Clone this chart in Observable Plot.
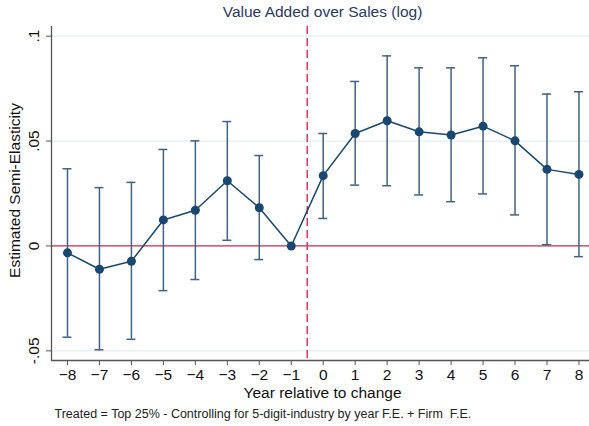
<!DOCTYPE html>
<html>
<head>
<meta charset="utf-8">
<script src="https://cdn.jsdelivr.net/npm/d3@7"></script>
<script src="https://cdn.jsdelivr.net/npm/@observablehq/plot@0.6"></script>
<style>
  html, body { margin: 0; padding: 0; background: #fff; }
  #chart svg { display: block; }
</style>
</head>
<body>
<div id="chart"></div>
<script>
const years    = [-8, -7, -6, -5, -4, -3, -2, -1, 0, 1, 2, 3, 4, 5, 6, 7, 8];
const estimate = [-0.0033, -0.0111, -0.0073, 0.0124, 0.0170, 0.0311, 0.0182, 0.0, 0.0335, 0.0536, 0.0597, 0.0544, 0.0529, 0.0571, 0.0501, 0.0365, 0.0341];
const lower    = [-0.0435, -0.0495, -0.0445, -0.0213, -0.0160, 0.0027, -0.0065, null, 0.0131, 0.0290, 0.0287, 0.0243, 0.0211, 0.0248, 0.0148, 0.0006, -0.0051];
const upper    = [0.0368, 0.0278, 0.0303, 0.0460, 0.0501, 0.0593, 0.0431, null, 0.0536, 0.0784, 0.0906, 0.0849, 0.0849, 0.0897, 0.0859, 0.0724, 0.0735];
const yTicks   = [-0.05, 0, 0.05, 0.1];
const yTickLabels = ["-.05", "0", ".05", ".1"];
const xDomain  = [-8.5, 8.33];
const yDomain  = [-0.0546, 0.1046];
const eventLine = -0.5;
const capHalf = 0.14;

const title   = "Value Added over Sales (log)";
const xTitle  = "Year relative to change";
const yTitle  = "Estimated Semi-Elasticity";
const caption = "Treated = Top 25% - Controlling for 5-digit-industry by year F.E. + Firm  F.E.";

const data = years.map((x, i) => ({x, y: estimate[i], lo: lower[i], hi: upper[i]}));
const ci = data.filter(d => d.lo != null);

const navy = "#1a476f";
const barColor = "#3e6288";

const chart = Plot.plot({
  width: 589,
  height: 426,
  marginLeft: 51,
  marginRight: 0,
  marginTop: 26,
  marginBottom: 66,
  style: {fontFamily: "'Liberation Sans', Arial, sans-serif", fontSize: "15px", background: "#fff", color: "#111"},
  x: {domain: xDomain, ticks: years, tickFormat: d => String(d), label: null},
  y: {domain: yDomain, ticks: yTicks, label: null},
  marks: [
    Plot.ruleY(yTicks.filter(v => v !== 0), {stroke: "#e4edf1", strokeWidth: 1.2}),
    Plot.ruleY([0], {stroke: "#c9284f", strokeWidth: 1.3}),
    Plot.ruleX([eventLine], {stroke: "#d6375f", strokeWidth: 1.5, strokeDasharray: "8,4"}),
    Plot.ruleX(ci, {x: "x", y1: "lo", y2: "hi", stroke: barColor, strokeWidth: 1.5}),
    Plot.ruleY(ci, {y: "lo", x1: d => d.x - capHalf, x2: d => d.x + capHalf, stroke: barColor, strokeWidth: 1.5}),
    Plot.ruleY(ci, {y: "hi", x1: d => d.x - capHalf, x2: d => d.x + capHalf, stroke: barColor, strokeWidth: 1.5}),
    Plot.line(data, {x: "x", y: "y", stroke: navy, strokeWidth: 1.5}),
    Plot.dot(data, {x: "x", y: "y", r: 4.5, fill: navy, stroke: "none"}),
    Plot.ruleX([xDomain[0]], {stroke: "#555", strokeWidth: 1.3}),
    Plot.ruleY([yDomain[0]], {stroke: "#555", strokeWidth: 1.3}),
    Plot.axisY({ticks: yTicks, tickFormat: d => yTickLabels[yTicks.indexOf(d)], tickRotate: -90, tickSize: 5, tickPadding: 8, fontSize: 15.5, stroke: "#555", label: null}),
    Plot.axisX({ticks: years, tickSize: 5, tickPadding: 3, fontSize: 15.5, stroke: "#555", label: null}),
    Plot.text([title], {text: d => d, frameAnchor: "top", lineAnchor: "middle", dx: 2, dy: -14, fontSize: 15.5, fill: "#2b3a62"}),
    Plot.text([xTitle], {text: d => d, frameAnchor: "bottom", lineAnchor: "middle", dx: 2, dy: 33, fontSize: 15.5, fill: "#111"}),
    Plot.text([yTitle], {text: d => d, frameAnchor: "left", textAnchor: "middle", rotate: -90, dx: -36, dy: -3, fontSize: 15.5, fill: "#111"}),
    Plot.text([caption], {text: d => d, frameAnchor: "bottom-left", textAnchor: "start", lineAnchor: "middle", dx: 3, dy: 53, fontSize: 12.5, fill: "#222"})
  ]
});
document.getElementById("chart").appendChild(chart);
</script>
</body>
</html>
